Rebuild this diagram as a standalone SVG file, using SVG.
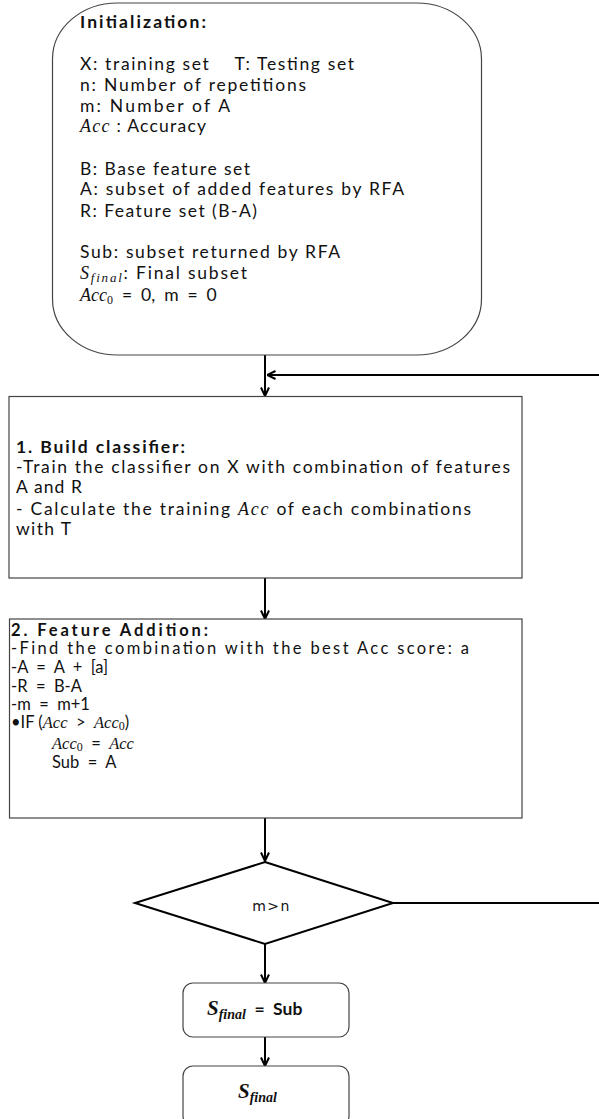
<svg xmlns="http://www.w3.org/2000/svg" width="599" height="1119" viewBox="0 0 599 1119">
<style>
.box{fill:#fff;stroke:#444;stroke-width:1.2}
.t{font-family:Lato,"Noto Sans","Liberation Sans",sans-serif;font-size:17.5px;fill:#111}
.s{font-size:16.5px}
.b{font-weight:bold}
.m{font-family:"Liberation Serif","DejaVu Serif",serif;font-style:italic}
.sub{font-family:"Liberation Serif","DejaVu Serif",serif;font-size:12px}
.c{fill:none;stroke:#000;stroke-width:2}
</style>
<defs>
<marker id="ah" viewBox="0 0 10 10" refX="9.5" refY="5" markerWidth="10" markerHeight="10" markerUnits="userSpaceOnUse" orient="auto">
<path d="M1,1 L9.5,5 L1,9" fill="none" stroke="#000" stroke-width="2"/>
</marker>
</defs>
<rect width="599" height="1119" fill="#fff"/>

<g id="connectors">
<line class="c" x1="265" y1="355" x2="265" y2="396" marker-end="url(#ah)"/>
<path class="c" d="M393,903 H602 V375 H267" marker-end="url(#ah)"/>
<line class="c" x1="265" y1="578" x2="265" y2="619" marker-end="url(#ah)"/>
<line class="c" x1="265" y1="818" x2="265" y2="861" marker-end="url(#ah)"/>
<line class="c" x1="265" y1="944" x2="265" y2="983" marker-end="url(#ah)"/>
<line class="c" x1="265" y1="1037" x2="265" y2="1066" marker-end="url(#ah)"/>
</g>

<g id="init">
<rect class="box" x="52.5" y="3" width="429" height="352" rx="65" ry="56"/>
<text class="t b" x="80" y="28" textLength="126">Initialization:</text>
<text class="t" x="80" y="70" textLength="274" xml:space="preserve">X: training set    T: Testing set</text>
<text class="t" x="80" y="91" textLength="226">n: Number of repetitions</text>
<text class="t" x="80" y="112" textLength="150">m: Number of A</text>
<text class="t" x="80" y="132" textLength="126"><tspan class="m" font-size="18">Acc</tspan> : Accuracy</text>
<text class="t" x="80" y="175" textLength="170">B: Base feature set</text>
<text class="t" x="80" y="195" textLength="324">A: subset of added features by RFA</text>
<text class="t" x="80" y="217" textLength="177">R: Feature set (B-A)</text>
<text class="t" x="80" y="258" textLength="260">Sub: subset returned by RFA</text>
<text class="t" x="80" y="279" textLength="167"><tspan class="m" font-size="18">S</tspan><tspan class="m" font-size="13" dy="3">final</tspan><tspan dy="-3">: Final subset</tspan></text>
<text class="t" x="80" y="301" xml:space="preserve"><tspan class="m" font-size="18">Acc</tspan><tspan class="sub" dy="3">0</tspan><tspan dy="-3">  =  0,  m  =  0</tspan></text>
</g>

<g id="build">
<rect class="box" x="9" y="396.5" width="513" height="181.5"/>
<text class="t b" x="16" y="453" textLength="169">1. Build classifier:</text>
<text class="t" x="16" y="473" textLength="494">-Train the classifier on X with combination of features</text>
<text class="t" x="16" y="493" textLength="66">A and R</text>
<text class="t" x="16" y="515" textLength="455">- Calculate the training <tspan class="m" font-size="18">Acc</tspan> of each combinations</text>
<text class="t" x="16" y="535" textLength="55">with T</text>
</g>

<g id="addition">
<rect class="box" x="9.5" y="619" width="512.5" height="199"/>
<text class="t s b" x="11" y="636" textLength="197">2. Feature Addition:</text>
<text class="t s" x="11" y="654" textLength="458">-Find the combination with the best Acc score: a</text>
<text class="t s" x="11" y="673" xml:space="preserve">-A  =  A  +  [a]</text>
<text class="t s" x="11" y="692" xml:space="preserve">-R  =  B-A</text>
<text class="t s" x="11" y="710" xml:space="preserve">-m  =  m+1</text>
<text class="t s" x="11" y="728" xml:space="preserve">•IF (<tspan class="m">Acc</tspan>  &gt;  <tspan class="m">Acc</tspan><tspan class="sub" dy="2">0</tspan><tspan dy="-2">)</tspan></text>
<text class="t s" x="52" y="749" xml:space="preserve"><tspan class="m">Acc</tspan><tspan class="sub" dy="2">0</tspan><tspan dy="-2">  =  </tspan><tspan class="m">Acc</tspan></text>
<text class="t s" x="52" y="768" xml:space="preserve">Sub  =  A</text>
</g>

<g id="decision">
<polygon points="265,862 393,903 265,944 135,903" fill="#fff" stroke="#000" stroke-width="2"/>
<text x="271.5" y="911" text-anchor="middle" font-family="DejaVu Sans,sans-serif" font-size="14" letter-spacing="1.5" fill="#111">m&gt;n</text>
</g>

<g id="assign">
<rect class="box" x="183" y="983" width="166" height="54" rx="10"/>
<text x="207" y="1015" class="t" xml:space="preserve"><tspan class="m b" font-size="21">S</tspan><tspan class="m b" font-size="14" dy="4">final</tspan><tspan class="b" font-size="17.5" dy="-4">  =  Sub</tspan></text>
</g>

<g id="result">
<rect class="box" x="183" y="1066" width="166" height="60" rx="10"/>
<text x="238" y="1098" class="t"><tspan class="m b" font-size="21">S</tspan><tspan class="m b" font-size="14" dy="4">final</tspan></text>
</g>
</svg>
